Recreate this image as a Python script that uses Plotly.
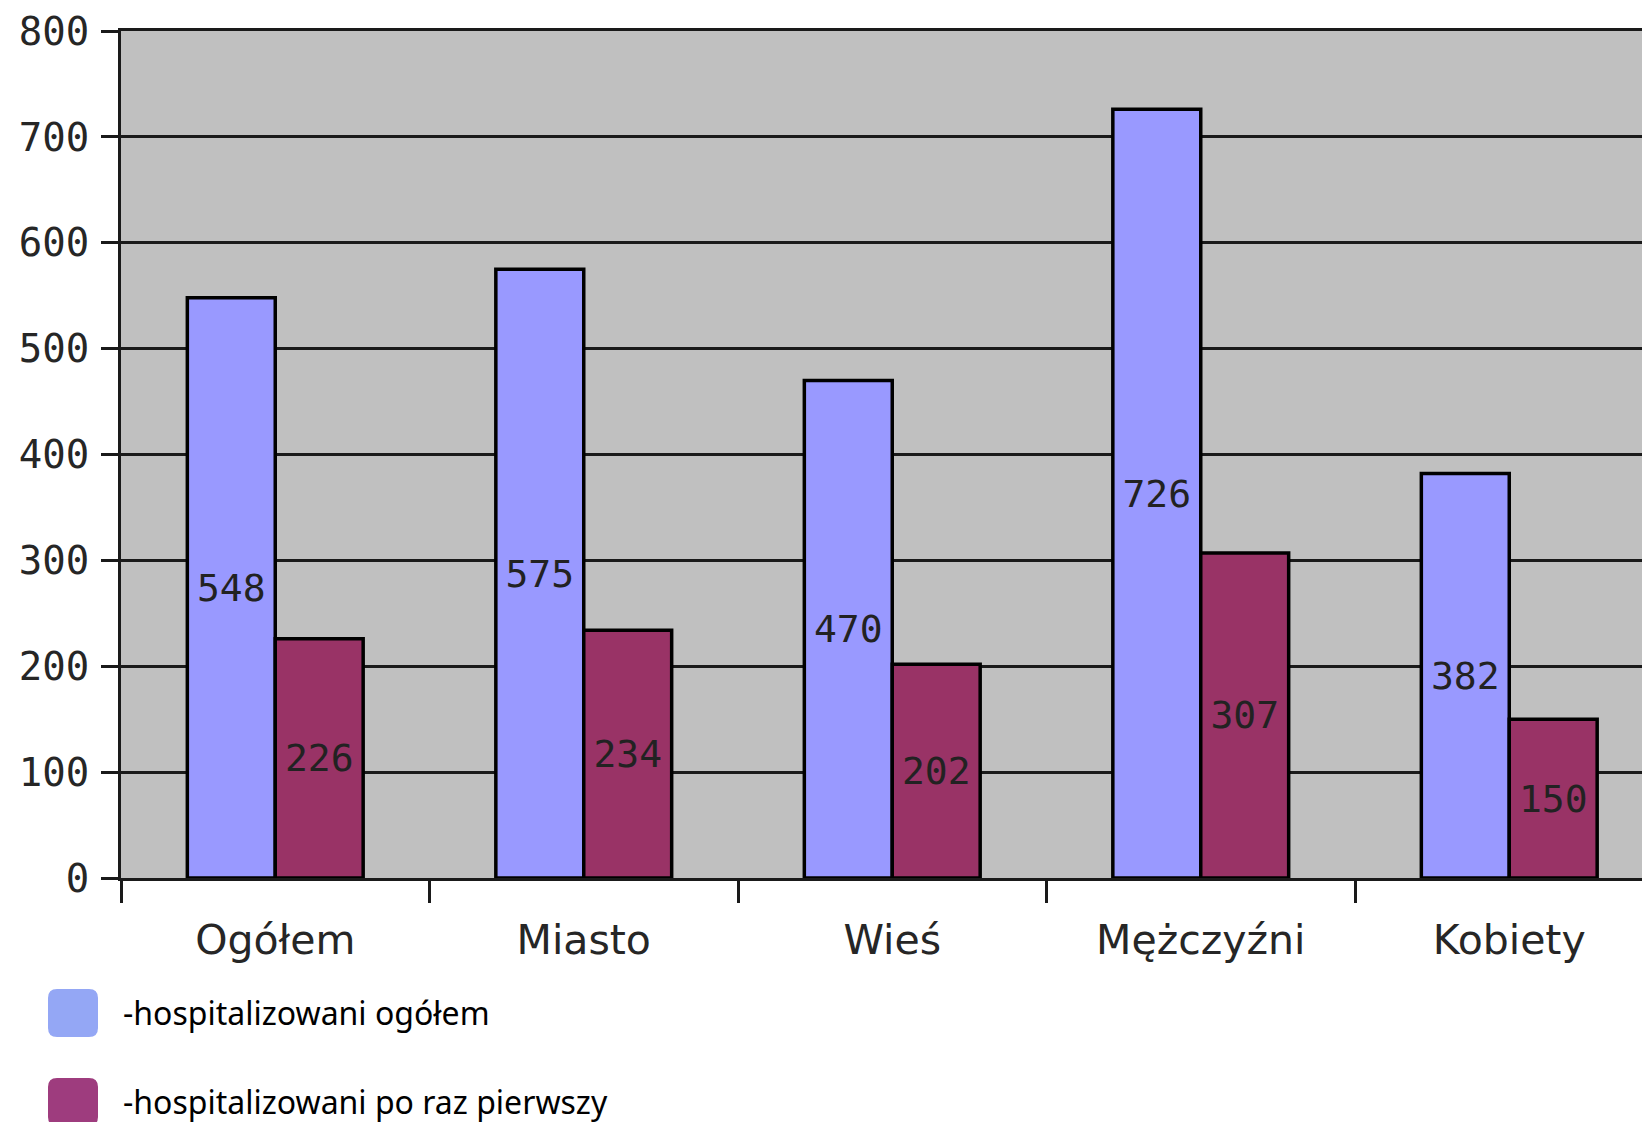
import plotly.graph_objects as go

categories = ["Ogółem", "Miasto", "Wieś", "Mężczyźni", "Kobiety"]
series_names = ["-hospitalizowani ogółem", "-hospitalizowani po raz pierwszy"]
values_total = [548, 575, 470, 726, 382]
values_first = [226, 234, 202, 307, 150]
y_ticks = [0, 100, 200, 300, 400, 500, 600, 700, 800]

bar_colors = ["#9999ff", "#993366"]
legend_colors = ["#94a7f5", "#9e3c7e"]

W, H = 1650, 1122
OFF = 8  # page body margin offset
ml, mr, mt, mb = 121 - OFF, 0, 31 - OFF, H - (878 - OFF)

fig = go.Figure()
for name, vals, col in zip(series_names, [values_total, values_first], bar_colors):
    fig.add_trace(go.Bar(
        x=categories, y=vals, name=name,
        marker=dict(color=col, line=dict(color="#000000", width=3.5)),
        text=[str(v) for v in vals],
        textposition="inside", insidetextanchor="middle",
        textangle=0, constraintext="none",
        textfont=dict(family="DejaVu Sans Mono", size=38, color="#222222"),
        showlegend=False,
    ))

fig.update_layout(
    width=W, height=H,
    margin=dict(l=ml, r=mr, t=mt, b=mb, autoexpand=False),
    paper_bgcolor="#ffffff",
    plot_bgcolor="#c0c0c0",
    barmode="group", bargap=0.43, bargroupgap=0,
    xaxis=dict(
        range=[-0.5, -0.5 + (W - ml) / 308.5], automargin=False,
        tickson="boundaries", ticks="outside", ticklen=22, tickwidth=3, tickcolor="#1a1a1a",
        showline=True, linecolor="#1a1a1a", linewidth=3, mirror=True,
        showgrid=False,
        tickfont=dict(family="DejaVu Sans", size=41, color="#262626"),
        ticklabelstandoff=24,
    ),
    yaxis=dict(
        range=[0, 800], tickvals=y_ticks, ticktext=[str(t) for t in y_ticks],
        automargin=False,
        ticks="outside", ticklen=17, tickwidth=3, tickcolor="#1a1a1a",
        showline=True, linecolor="#1a1a1a", linewidth=3,
        showgrid=True, gridcolor="#1a1a1a", gridwidth=3,
        zeroline=False,
        tickfont=dict(family="DejaVu Sans Mono", size=39, color="#262626"),
        ticklabelstandoff=4,
    ),
)


def fx(x):
    return (x - OFF - ml) / (W - ml - mr)


def fy(y):
    return (H - mb - (y - OFF)) / (H - mt - mb)


legend_y = [989, 1078]
for i, (name, col) in enumerate(zip(series_names, legend_colors)):
    y0 = legend_y[i]
    y1 = y0 + 48
    x0, x1 = 48, 98
    r = 9
    path = (
        f"M {fx(x0 + r)},{fy(y0)} L {fx(x1 - r)},{fy(y0)} Q {fx(x1)},{fy(y0)} {fx(x1)},{fy(y0 + r)} "
        f"L {fx(x1)},{fy(y1 - r)} Q {fx(x1)},{fy(y1)} {fx(x1 - r)},{fy(y1)} L {fx(x0 + r)},{fy(y1)} "
        f"Q {fx(x0)},{fy(y1)} {fx(x0)},{fy(y1 - r)} L {fx(x0)},{fy(y0 + r)} Q {fx(x0)},{fy(y0)} {fx(x0 + r)},{fy(y0)} Z"
    )
    fig.add_shape(type="path", path=path, xref="paper", yref="paper",
                  fillcolor=col, line=dict(width=0), layer="above")
    fig.add_annotation(
        x=fx(121), y=fy(y0 + 23), xref="paper", yref="paper",
        text=name, showarrow=False, xanchor="left", yanchor="middle",
        font=dict(family="Noto Sans", size=32, color="#000000"),
    )

fig.write_html("out.html")
